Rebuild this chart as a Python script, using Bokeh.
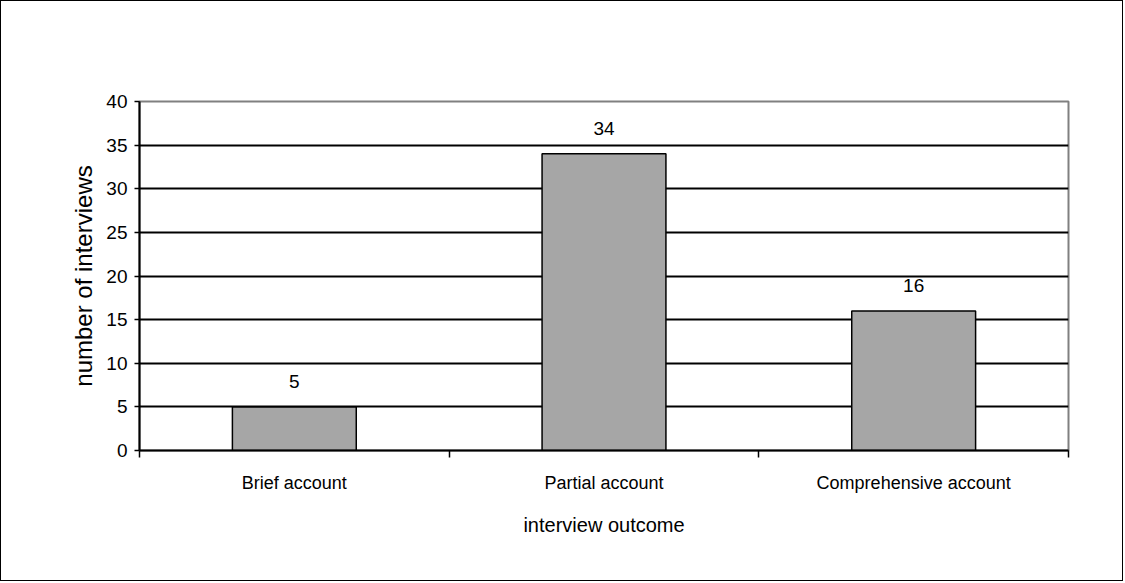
from bokeh.plotting import figure
from bokeh.models import ColumnDataSource, FixedTicker, Range1d, LabelSet
from bokeh.core.properties import value
from bokeh.embed import file_html
from bokeh.resources import INLINE

categories = ["Brief account", "Partial account", "Comprehensive account"]
interviews = [5, 34, 16]
y_ticks = [0, 5, 10, 15, 20, 25, 30, 35, 40]

FONT = "Liberation Sans"

xs = [i + 0.5 for i in range(len(categories))]
src = ColumnDataSource(dict(x=xs, top=interviews, label=[str(v) for v in interviews]))

p = figure(width=1123, height=581, output_backend="svg", toolbar_location=None,
           x_range=Range1d(0, len(categories)), y_range=Range1d(0, 40),
           min_border_left=138, min_border_right=56, min_border_top=100,
           min_border_bottom=132)
p.styles = {"border": "1px solid black"}
p.background_fill_color = "white"
p.border_fill_color = "white"
p.outline_line_color = "#808080"
p.outline_line_width = 2

p.vbar(x="x", top="top", width=0.4, source=src, fill_color="#a6a6a6",
       line_color="black", line_width=1.5)

p.add_layout(LabelSet(x="x", y="top", text="label", source=src, y_offset=19,
                      text_align="center", text_baseline="bottom",
                      text_font=value(FONT), text_font_size="19px", text_color="black"))

# horizontal gridlines
p.xgrid.visible = False
p.ygrid.ticker = FixedTicker(ticks=y_ticks)
p.ygrid.grid_line_color = "black"
p.ygrid.grid_line_width = 2

# y axis
p.yaxis.ticker = FixedTicker(ticks=y_ticks)
p.yaxis.axis_line_width = 2
p.yaxis.major_tick_in = 0
p.yaxis.major_tick_out = 5
p.yaxis.major_tick_line_width = 1.5
p.yaxis.minor_tick_line_color = None
p.yaxis.major_label_text_font = FONT
p.yaxis.major_label_text_font_size = "19px"
p.yaxis.major_label_text_color = "black"
p.yaxis.major_label_standoff = 7
p.yaxis.axis_label = "number of interviews"
p.yaxis.axis_label_text_font = FONT
p.yaxis.axis_label_text_font_size = "24px"
p.yaxis.axis_label_text_font_style = "normal"
p.yaxis.axis_label_text_color = "black"
p.yaxis.axis_label_standoff = 6

# x axis: labels centred on bars, tick marks on category boundaries
p.xaxis.ticker = FixedTicker(ticks=xs, minor_ticks=list(range(len(categories) + 1)))
p.xaxis.major_label_overrides = {x: c for x, c in zip(xs, categories)}
p.xaxis.axis_line_width = 2
p.xaxis.major_tick_in = 0
p.xaxis.major_tick_out = 0
p.xaxis.minor_tick_in = 0
p.xaxis.minor_tick_out = 7
p.xaxis.minor_tick_line_color = "black"
p.xaxis.minor_tick_line_width = 1.5
p.xaxis.major_label_text_font = FONT
p.xaxis.major_label_text_font_size = "18px"
p.xaxis.major_label_text_color = "black"
p.xaxis.major_label_standoff = 15
p.xaxis.axis_label = "interview outcome"
p.xaxis.axis_label_text_font = FONT
p.xaxis.axis_label_text_font_size = "20px"
p.xaxis.axis_label_text_font_style = "normal"
p.xaxis.axis_label_text_color = "black"
p.xaxis.axis_label_standoff = 18

open("out.html", "w").write(file_html(p, INLINE))
